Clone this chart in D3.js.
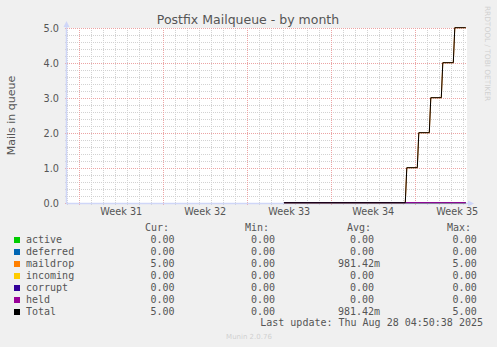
<!DOCTYPE html>
<html>
<head>
<meta charset="utf-8">
<script src="https://cdn.jsdelivr.net/npm/d3@7"></script>
<style>
  html, body { margin: 0; padding: 0; background: #f0f0f0; }
  svg { display: block; }
  text { fill: #555; }
</style>
</head>
<body>
<div id="chart"></div>
<script>
// sample times (local time) shared by every series
const times = [
    '2025-08-13T01:30', '2025-08-23T04:00', '2025-08-23T07:00', '2025-08-24T04:00',
    '2025-08-24T07:00', '2025-08-25T04:00', '2025-08-25T07:00', '2025-08-26T04:00',
    '2025-08-26T07:00', '2025-08-27T04:00', '2025-08-27T07:00', '2025-08-28T05:00'
];

const seriesNames = ['active', 'deferred', 'maildrop', 'incoming', 'corrupt', 'held', 'Total'];
const seriesColors = ['#00cc00', '#0066b3', '#ff8000', '#ffcc00', '#330099', '#990099', '#000000'];

const active   = [0, 0, 0, 0, 0, 0, 0, 0, 0, 0, 0, 0];
const deferred = [0, 0, 0, 0, 0, 0, 0, 0, 0, 0, 0, 0];
const maildrop = [0, 0, 1, 1, 2, 2, 3, 3, 4, 4, 5, 5];
const incoming = [0, 0, 0, 0, 0, 0, 0, 0, 0, 0, 0, 0];
const corrupt  = [0, 0, 0, 0, 0, 0, 0, 0, 0, 0, 0, 0];
const held     = [0, 0, 0, 0, 0, 0, 0, 0, 0, 0, 0, 0];
const total    = [0, 0, 1, 1, 2, 2, 3, 3, 4, 4, 5, 5];

// legend stats
const curValues = [0, 0, 5, 0, 0, 0, 5];
const minValues = [0, 0, 0, 0, 0, 0, 0];
const avgValues = [0, 0, 0.98142, 0, 0, 0, 0.98142];
const maxValues = [0, 0, 5, 0, 0, 0, 5];

const yTicks = [0, 1, 2, 3, 4, 5];
const weekLabels = ['Week 31', 'Week 32', 'Week 33', 'Week 34', 'Week 35'];
const weekStarts = ['2025-07-27T00:00', '2025-08-03T00:00', '2025-08-10T00:00', '2025-08-17T00:00', '2025-08-24T00:00'];

const timeStart = '2025-07-25T23:24';
const timeEnd = '2025-08-28T07:24';
const lastUpdate = 'Last update: Thu Aug 28 04:50:38 2025';

const W = 497, H = 347;
const plotLeft = 67, plotRight = 467, plotTop = 28, plotBottom = 203;
const sans = 'DejaVu Sans, sans-serif';
const mono = 'DejaVu Sans Mono, monospace';

const svg = d3.select('#chart').append('svg')
    .attr('width', W)
    .attr('height', H);

svg.append('rect').attr('width', W).attr('height', H).attr('fill', '#f0f0f0');

const x = d3.scaleTime()
    .domain([new Date(timeStart), new Date(timeEnd)])
    .range([plotLeft, plotRight]);

const y = d3.scaleLinear()
    .domain([0, 5])
    .range([plotBottom, plotTop]);

// canvas
svg.append('rect')
    .attr('x', plotLeft).attr('y', plotTop)
    .attr('width', plotRight - plotLeft).attr('height', plotBottom - plotTop)
    .attr('fill', '#ffffff');

const grid = svg.append('g').attr('shape-rendering', 'crispEdges');

// minor grid: every 0.2 and every day
const minorY = d3.range(0, 26).map(i => i / 5).filter(v => yTicks.indexOf(v) < 0);
grid.selectAll('.minorY')
    .data(minorY)
    .enter().append('line')
    .attr('x1', plotLeft - 2).attr('x2', plotRight)
    .attr('y1', d => Math.round(y(d)) + 0.5).attr('y2', d => Math.round(y(d)) + 0.5)
    .attr('stroke', '#d2d2d2')
    .attr('stroke-dasharray', '1,1');

const days = d3.timeDay.range(x.domain()[0], x.domain()[1]).filter(d => d.getDay() !== 0);
grid.selectAll('.minorX')
    .data(days)
    .enter().append('line')
    .attr('x1', d => Math.round(x(d)) + 0.5).attr('x2', d => Math.round(x(d)) + 0.5)
    .attr('y1', plotTop).attr('y2', plotBottom + 2)
    .attr('stroke', '#d2d2d2')
    .attr('stroke-dasharray', '1,1');

// major grid
grid.selectAll('.majorY')
    .data(yTicks)
    .enter().append('line')
    .attr('x1', plotLeft - 2).attr('x2', plotRight)
    .attr('y1', d => Math.round(y(d)) + 0.5).attr('y2', d => Math.round(y(d)) + 0.5)
    .attr('stroke', '#eca4a4')
    .attr('stroke-dasharray', '1,1');

const sundays = d3.timeSunday.range(x.domain()[0], x.domain()[1]);
grid.selectAll('.majorX')
    .data(sundays)
    .enter().append('line')
    .attr('x1', d => Math.round(x(d)) + 0.5).attr('x2', d => Math.round(x(d)) + 0.5)
    .attr('y1', plotTop).attr('y2', plotBottom + 3)
    .attr('stroke', '#eca4a4')
    .attr('stroke-dasharray', '1,1');

// axes
const axisColor = '#cfd6f8';
svg.append('line')
    .attr('x1', plotLeft - 0.5).attr('x2', plotLeft - 0.5)
    .attr('y1', plotBottom + 1).attr('y2', plotTop - 2)
    .attr('stroke', axisColor).attr('stroke-width', 1.5);
svg.append('line')
    .attr('x1', plotLeft - 1).attr('x2', plotRight + 1)
    .attr('y1', plotBottom + 0.5).attr('y2', plotBottom + 0.5)
    .attr('stroke', axisColor).attr('stroke-width', 1.5);
svg.append('path')
    .attr('d', `M${plotLeft - 3.5},${plotTop - 1}L${plotLeft - 0.5},${plotTop - 7}L${plotLeft + 2.5},${plotTop - 1}Z`)
    .attr('fill', axisColor);
svg.append('path')
    .attr('d', `M${plotRight + 1},${plotBottom - 2.5}L${plotRight + 7},${plotBottom + 0.5}L${plotRight + 1},${plotBottom + 3.5}Z`)
    .attr('fill', axisColor);

// series lines
const seriesValues = [active, deferred, maildrop, incoming, corrupt, held, total];
const dates = times.map(t => new Date(t));

const lineFunction = d3.line()
    .x((d, i) => x(dates[i]))
    .y(d => y(d));

seriesValues.forEach((values, i) => {
    svg.append('path')
        .attr('d', lineFunction(values))
        .attr('transform', 'translate(0,-0.3)')
        .attr('fill', 'none')
        .attr('stroke', seriesColors[i])
        .attr('stroke-width', 1);
});

// y tick labels
svg.selectAll('.ylab')
    .data(yTicks)
    .enter().append('text')
    .attr('x', 59)
    .attr('y', d => y(d) + 3.6)
    .attr('text-anchor', 'end')
    .style('font-family', sans)
    .style('font-size', '9.7px')
    .text(d => d.toFixed(1));

// week labels, centred mid week
svg.selectAll('.xlab')
    .data(weekLabels)
    .enter().append('text')
    .attr('x', (d, i) => x(d3.timeHour.offset(new Date(weekStarts[i]), 84)))
    .attr('y', 215)
    .attr('text-anchor', 'middle')
    .style('font-family', sans)
    .style('font-size', '9.7px')
    .text(d => d);

// title and axis label
svg.append('text')
    .attr('x', 248).attr('y', 24)
    .attr('text-anchor', 'middle')
    .style('font-family', sans)
    .style('font-size', '12.5px')
    .text('Postfix Mailqueue - by month');

svg.append('text')
    .attr('transform', `translate(15,${(plotTop + plotBottom) / 2}) rotate(-90)`)
    .attr('text-anchor', 'middle')
    .style('font-family', sans)
    .style('font-size', '11px')
    .text('Mails in queue');

// watermarks
svg.append('text')
    .attr('transform', 'translate(485,53.5) rotate(90)')
    .attr('text-anchor', 'middle')
    .style('font-family', sans)
    .style('font-size', '7.4px')
    .style('fill', '#d0d0d0')
    .text('RRDTOOL / TOBI OETIKER');

svg.append('text')
    .attr('x', 249).attr('y', 339)
    .attr('text-anchor', 'middle')
    .style('font-family', sans)
    .style('font-size', '7px')
    .style('fill', '#d0d0d0')
    .text('Munin 2.0.76');

// legend
const legend = svg.append('g').style('font-family', mono).style('font-size', '10px');
const headers = ['Cur:', 'Min:', 'Avg:', 'Max:'];
const headerX = [145, 245, 347, 447];
const colEnd = [174.5, 275, 374, 476.7];
const statCols = [curValues, minValues, avgValues, maxValues];

legend.selectAll('.hdr')
    .data(headers)
    .enter().append('text')
    .attr('x', (d, i) => headerX[i])
    .attr('y', 231)
    .text(d => d);

function fmt(v) {
    if (v > 0 && v < 1) return { num: (v * 1000).toFixed(2), unit: 'm' };
    return { num: v.toFixed(2), unit: '' };
}

seriesNames.forEach((name, i) => {
    const by = 243 + i * 12;
    legend.append('rect')
        .attr('x', 14).attr('y', by - 6)
        .attr('width', 6).attr('height', 6)
        .attr('fill', seriesColors[i]);
    legend.append('text')
        .attr('x', 26).attr('y', by)
        .text(name);
    statCols.forEach((col, c) => {
        const f = fmt(col[i]);
        legend.append('text')
            .attr('x', colEnd[c]).attr('y', by)
            .attr('text-anchor', 'end')
            .text(f.num);
        if (f.unit) {
            legend.append('text')
                .attr('x', colEnd[c]).attr('y', by)
                .text(f.unit);
        }
    });
});

legend.append('text')
    .attr('x', 483).attr('y', 326)
    .attr('text-anchor', 'end')
    .text(lastUpdate);
</script>
</body>
</html>
